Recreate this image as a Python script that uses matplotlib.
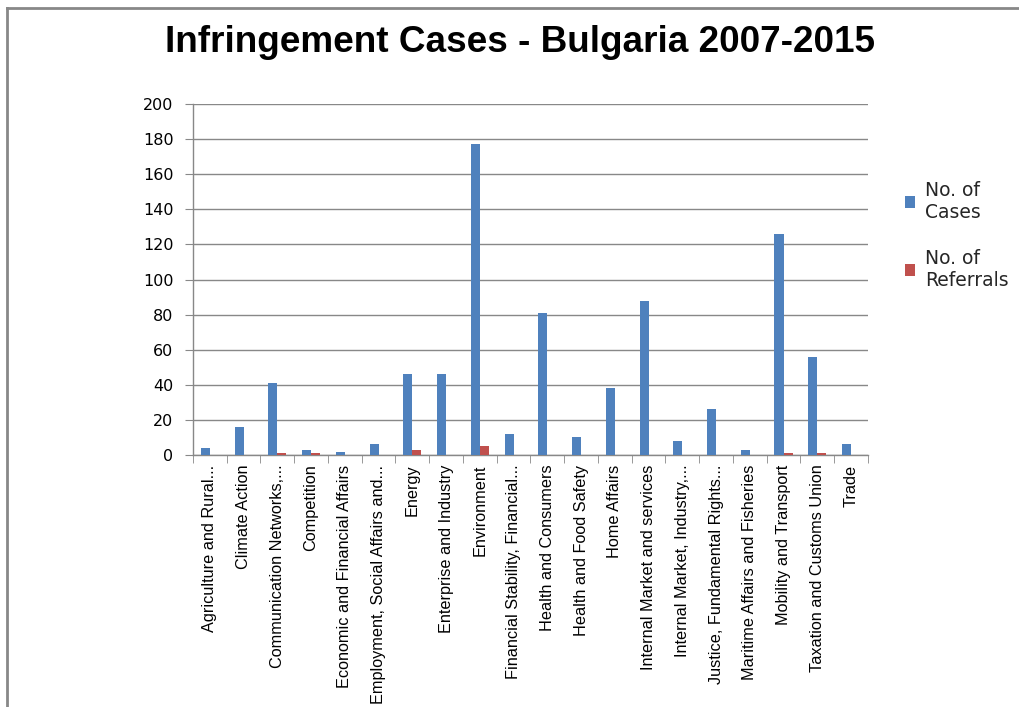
import matplotlib.pyplot as plt
import numpy as np
from matplotlib.lines import Line2D

categories = [
    'Agriculture and Rural...', 'Climate Action', 'Communication Networks,...',
    'Competition', 'Economic and Financial Affairs', 'Employment, Social Affairs and...',
    'Energy', 'Enterprise and Industry', 'Environment', 'Financial Stability, Financial...',
    'Health and Consumers', 'Health and Food Safety', 'Home Affairs',
    'Internal Market and services', 'Internal Market, Industry,...',
    'Justice, Fundamental Rights...', 'Maritime Affairs and Fisheries',
    'Mobility and Transport', 'Taxation and Customs Union', 'Trade',
]
cases = [4, 16, 41, 3, 2, 6, 46, 46, 177, 12, 81, 10, 38, 88, 8, 26, 3, 126, 56, 6]
referrals = [0, 0, 1, 1, 0, 0, 3, 0, 5, 0, 0, 0, 0, 0, 0, 0, 0, 1, 1, 0]

titulo = 'Infringement Cases - Bulgaria 2007-2015'
legendas = ['No. of\nCases', 'No. of\nReferrals']

azul = '#4f81bd'
vermelho = '#c0504d'
cinza = '#888888'

fig = plt.figure(figsize=(10.19, 7.07), dpi=100)
ax = fig.add_axes([0.1894, 0.3564, 0.6624, 0.4965])

x = np.arange(len(categories))
w = 0.27
ax.bar(x - w / 2, cases, w, color=azul, label=legendas[0], zorder=3)
ax.bar(x + w / 2, referrals, w, color=vermelho, label=legendas[1], zorder=3)

# eixos
ax.set_xlim(-0.5, len(categories) - 0.5)
ax.set_ylim(0, 200)
ax.set_yticks(range(0, 201, 20))
ax.yaxis.grid(True, color=cinza, linewidth=1.0, zorder=0)
for lado in ['top', 'right']:
    ax.spines[lado].set_visible(False)
for lado in ['left', 'bottom']:
    ax.spines[lado].set_color(cinza)
    ax.spines[lado].set_linewidth(1.0)

ax.tick_params(axis='y', length=6, color=cinza, labelsize=11.5, pad=8)
ax.set_xticks(x)
ax.set_xticklabels(categories, rotation=90, fontsize=11.7, family='Liberation Sans')
ax.tick_params(axis='x', which='major', length=0, pad=7)
ax.set_xticks(np.arange(-0.5, len(categories)), minor=True)
ax.tick_params(axis='x', which='minor', length=6, color=cinza)

fig.text(0.51, 0.94, titulo, ha='center', va='center', fontsize=26.6, fontweight='bold',
         family='Liberation Sans')

ax.legend(loc='upper left', bbox_to_anchor=(1.03, 0.83), frameon=False, fontsize=13.5,
          handlelength=0.55, handleheight=0.55, handletextpad=0.5, labelspacing=1.45,
          labelcolor='#262626')

# moldura
fig.add_artist(Line2D([7 / 1019, 7 / 1019], [0, 1 - 8 / 707], color=cinza, linewidth=2))
fig.add_artist(Line2D([7 / 1019, 1], [1 - 8 / 707, 1 - 8 / 707], color=cinza, linewidth=2))

fig.savefig('out.png', dpi=100)
